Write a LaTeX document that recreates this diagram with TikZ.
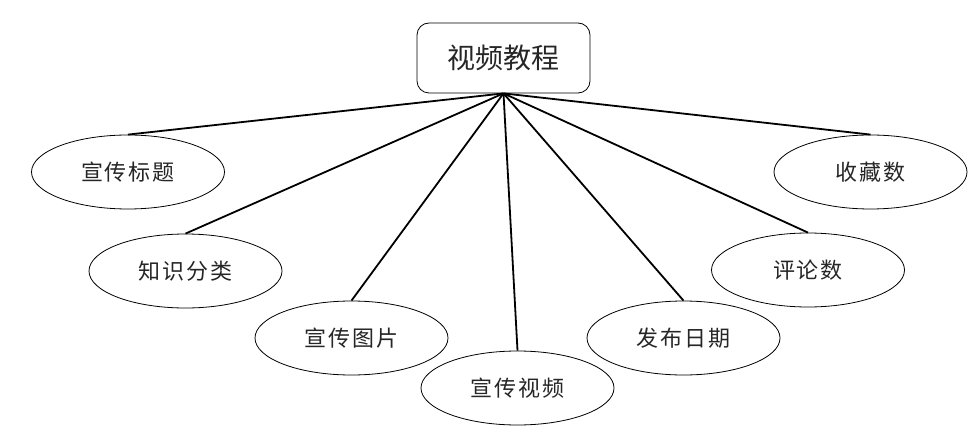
\documentclass[tikz,border=0pt]{standalone}
\usepackage{fontspec}
\usepackage{tikz}
\usetikzlibrary{shapes.geometric}
\newfontfamily\cjk{Noto Sans CJK SC}
\newfontfamily\cjkwide[LetterSpace=9]{Noto Sans CJK SC}

\begin{document}
\begin{tikzpicture}[
        x=1pt, y=-1pt,
        topbox/.style={draw, rectangle, rounded corners=12pt, line width=0.8pt,
            minimum width=173pt, minimum height=70pt, inner sep=0pt,
            text=black!85, font=\cjk\fontsize{28pt}{30pt}\selectfont},
        attr/.style={draw, ellipse, line width=0.8pt, minimum width=193pt,
            minimum height=74pt, inner sep=0pt,
            text=black!85, font=\cjkwide\fontsize{22pt}{24pt}\selectfont},
        link/.style={line width=1.8pt}
    ]
        \useasboundingbox (0,0) rectangle (976,446);

        \node[topbox] (video) at (503.5,58) {视频教程};

        \node[attr] (title) at (128,172) {宣传标题};
        \node[attr] (category) at (185.5,271) {知识分类};
        \node[attr] (picture) at (351.5,338) {宣传图片};
        \node[attr] (clip) at (517.5,388) {宣传视频};
        \node[attr] (date) at (683.5,338) {发布日期};
        \node[attr] (comments) at (808,270) {评论数};
        \node[attr] (favorites) at (870.5,172) {收藏数};

        \draw[link] (video.south) -- (title.north);
        \draw[link] (video.south) -- (category.north);
        \draw[link] (video.south) -- (picture.north);
        \draw[link] (video.south) -- (clip.north);
        \draw[link] (video.south) -- (date.north);
        \draw[link] (video.south) -- (comments.north);
        \draw[link] (video.south) -- (favorites.north);
    \end{tikzpicture}
\end{document}
